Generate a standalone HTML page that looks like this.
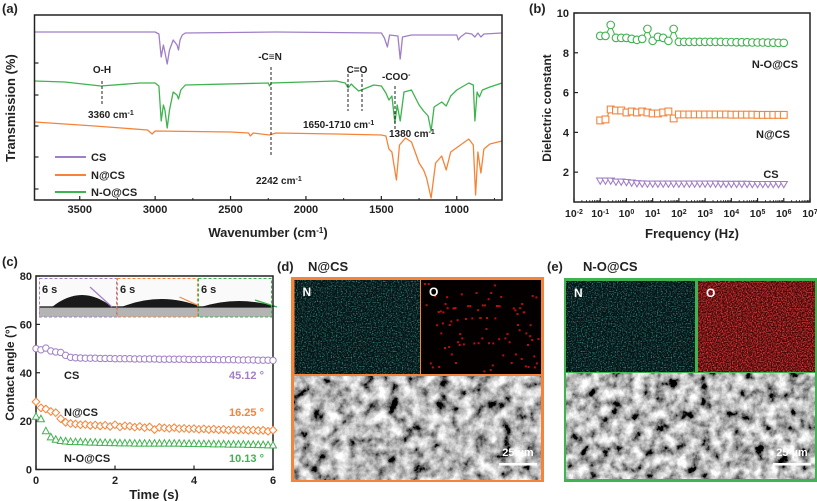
<!DOCTYPE html>
<html><head><meta charset="utf-8"><style>
html,body{margin:0;padding:0;background:#fff;}
svg{display:block;font-family:"Liberation Sans",Arial,sans-serif;font-weight:bold;}
</style></head><body>
<svg id="fig" width="817" height="501" viewBox="0 0 817 501" xmlns="http://www.w3.org/2000/svg">
<defs>
<filter id="semTex" x="0" y="0" width="100%" height="100%"><feTurbulence type="fractalNoise" baseFrequency="0.08" numOctaves="4" seed="4"/><feColorMatrix type="matrix" values="2.0 0 0 0 -0.52  2.0 0 0 0 -0.52  2.0 0 0 0 -0.52  0 0 0 0 1"/></filter>
<filter id="semTex2" x="0" y="0" width="100%" height="100%"><feTurbulence type="fractalNoise" baseFrequency="0.09" numOctaves="4" seed="9"/><feColorMatrix type="matrix" values="2.0 0 0 0 -0.52  2.0 0 0 0 -0.52  2.0 0 0 0 -0.52  0 0 0 0 1"/></filter>
<filter id="cyanTex" x="0" y="0" width="100%" height="100%"><feTurbulence type="fractalNoise" baseFrequency="0.8" numOctaves="1" seed="2"/><feColorMatrix type="matrix" values="0 0 0 0 0.08  0 0 0 0 0.45  0 0 0 0 0.45  0 0 0 2.4 -1.15"/></filter>
<filter id="redTex" x="0" y="0" width="100%" height="100%"><feTurbulence type="fractalNoise" baseFrequency="0.8" numOctaves="1" seed="5"/><feColorMatrix type="matrix" values="0 0 0 0 0.8  0 0 0 0 0.05  0 0 0 0 0.05  0 0 0 2.6 -0.95"/></filter>
</defs>
<g id="pa"></g>
<g id="pb"></g>
<g id="pc"></g>
<g id="pd"></g>
<g id="pe"></g>
</svg>
<script>
// ---------- Panel (a) data: [wavenumber, relative transmission] ----------
const ftirCS = [[3800,168],[3000,168],[2975,166],[2960,143],[2945,155],[2935,148],[2920,136],[2905,150],[2880,160],[2855,155],[2845,150],[2835,160],[2820,165],[2800,167],[2200,168],[1500,167],[1480,162],[1460,153],[1445,165],[1390,164],[1375,141],[1360,163],[1300,165],[1000,165],[990,160],[975,163],[940,167],[900,166],[880,163],[860,167],[840,163],[820,166],[700,167]];
const ftirNO = [[3800,119],[3600,118],[3360,114],[3100,117],[3000,117],[2975,114],[2960,79],[2945,95],[2935,90],[2920,72],[2905,90],[2880,108],[2855,105],[2845,101],[2830,110],[2800,115],[2250,117],[2242,114],[2230,117],[1800,119],[1740,117],[1720,112],[1700,116],[1680,113],[1650,109],[1600,112],[1550,115],[1500,114],[1470,107],[1450,100],[1430,104],[1410,77],[1395,95],[1375,79],[1350,108],[1300,110],[1250,95],[1220,89],[1190,84],[1170,69],[1150,93],[1100,98],[1070,94],[1040,104],[1000,110],[920,117],[890,115],[880,79],[865,108],[850,103],[830,110],[780,113],[700,117]];
const ftirN = [[3800,78],[3400,74],[3050,70],[3020,66],[3000,69],[2500,68],[2380,67],[2370,64],[2350,67],[2242,65],[2200,67],[1800,66],[1500,65],[1470,64],[1450,51],[1430,48],[1400,20],[1380,55],[1340,62],[1300,58],[1250,37],[1220,30],[1200,22],[1170,2],[1140,37],[1100,44],[1070,30],[1040,48],[920,61],[890,55],[875,5],[860,48],[840,27],[820,51],[780,56],[700,59]];
const aTicks = [3500,3000,2500,2000,1500,1000];

// ---------- Panel (b) data ----------
const freqExp = [-1,-0.8,-0.6,-0.4,-0.2,0,0.2,0.4,0.6,0.8,1,1.2,1.4,1.6,1.8,2,2.2,2.4,2.6,2.8,3,3.2,3.4,3.6,3.8,4,4.2,4.4,4.6,4.8,5,5.2,5.4,5.6,5.8,6];
const dielNO = [8.85,8.85,9.4,8.75,8.75,8.75,8.7,8.65,8.7,9.2,8.6,8.8,8.75,8.6,9.2,8.55,8.55,8.55,8.55,8.55,8.55,8.55,8.55,8.55,8.54,8.54,8.53,8.53,8.53,8.52,8.52,8.52,8.51,8.51,8.5,8.5];
const dielN = [4.6,4.65,5.15,5.1,5.1,5.0,5.05,5.0,5.05,5.0,4.95,4.95,5.0,5.05,4.7,4.9,4.9,4.9,4.9,4.9,4.9,4.9,4.9,4.9,4.9,4.89,4.89,4.89,4.89,4.89,4.88,4.88,4.88,4.88,4.88,4.88];
const dielCS = [1.55,1.55,1.55,1.5,1.5,1.48,1.45,1.42,1.41,1.4,1.4,1.4,1.4,1.4,1.4,1.4,1.4,1.4,1.4,1.4,1.4,1.4,1.4,1.39,1.39,1.39,1.39,1.39,1.39,1.38,1.38,1.38,1.38,1.38,1.38,1.38];
const bYTicks = [2,4,6,8,10];
const bXTicksExp = [-2,-1,0,1,2,3,4,5,6,7];

// ---------- Panel (c) data ----------
const times = [0,0.125,0.25,0.375,0.5,0.625,0.75,0.875,1,1.125,1.25,1.375,1.5,1.625,1.75,1.875,2,2.125,2.25,2.375,2.5,2.625,2.75,2.875,3,3.125,3.25,3.375,3.5,3.625,3.75,3.875,4,4.125,4.25,4.375,4.5,4.625,4.75,4.875,5,5.125,5.25,5.375,5.5,5.625,5.75,5.875,6];
const caCS = [50,49.5,50.2,49,48.6,48.4,47.2,46.4,46.2,46.1,46,46,46,45.9,45.9,45.9,45.8,45.8,45.8,45.8,45.7,45.7,45.7,45.7,45.7,45.6,45.6,45.6,45.6,45.6,45.6,45.5,45.5,45.5,45.5,45.5,45.5,45.4,45.4,45.4,45.4,45.3,45.3,45.3,45.3,45.2,45.2,45.2,45.1];
const caN = [28,25.5,25,24,23.5,21,19.5,19,18.8,18.5,18.6,18.2,18.4,18,18.3,17.8,18.5,17.6,18.1,17.9,17.5,17.8,17.3,17.6,16.5,17.4,17.2,17,17.3,16.9,17,16.8,16.9,16.6,16.8,16.5,16.7,16.4,16.6,16.3,16.5,16.3,16.4,16.2,16.3,16.1,16.2,15.8,16.25];
const caNO = [22,21,16,13.5,12.5,12,11.8,11.6,11.5,11.5,11.4,11.3,11.3,11.2,11.2,11.1,11.1,11,11,11,10.9,10.9,10.9,10.9,10.9,10.9,10.9,10.9,10.9,10.9,10.8,10.8,10.8,10.7,10.7,10.7,10.6,10.6,10.6,10.5,10.5,10.5,10.5,10.4,10.4,10.3,10.3,10.2,10.13];
const cYTicks = [0,20,40,60,80];
const cXTicks = [0,2,4,6];

const NS = "http://www.w3.org/2000/svg";
const PUR = "#a07fc6", ORA = "#f5843a", GRN = "#3fb34f";
function mk(parent, tag, attrs, text){
  const e = document.createElementNS(NS, tag);
  for (const k in attrs) e.setAttribute(k, attrs[k]);
  if (text !== undefined) e.textContent = text;
  parent.appendChild(e);
  return e;
}
function txt(parent, x, y, s, size, anchor, fill, name){
  const t = mk(parent, 'text', {x:x, y:y, 'font-size':size, 'text-anchor':anchor||'start', fill:fill||'#222'}, s);
  
  
  return t;
}

// ===== Panel A =====
const pa = document.getElementById('pa');
const aL=34.5, aR=502, aT=15, aB=200;
const xA = w => aL + (3800 - w) / 3100 * (aR - aL);
const yA = v => aB - v;
txt(pa, 2, 13, '(a)', 13, 'start', '#222', 'panel-a-label');
function specLine(data, color, name){
  const p = mk(pa, 'polyline', {points: data.map(d => xA(d[0]).toFixed(1)+','+yA(d[1]).toFixed(1)).join(' '), fill:'none', stroke:color, 'stroke-width':1.3, 'stroke-linejoin':'round'});
  
  
}
specLine(ftirCS, PUR, 'cs-spectrum');
specLine(ftirNO, GRN, 'n-o-cs-spectrum');
specLine(ftirN, ORA, 'n-cs-spectrum');
const fa = mk(pa, 'rect', {x:aL, y:aT, width:aR-aL, height:aB-aT, fill:'none', stroke:'#222', 'stroke-width':1.5});


aTicks.forEach(w => {
  mk(pa, 'line', {x1:xA(w), x2:xA(w), y1:aB, y2:aB-4, stroke:'#222', 'stroke-width':1.2});
  mk(pa, 'line', {x1:xA(w-250), x2:xA(w-250), y1:aB, y2:aB-2, stroke:'#222', 'stroke-width':1});
  txt(pa, xA(w), 213, String(w), 11, 'middle', '#222', 'x-tick-label-a');
});
[63,95,126,157,189].forEach(y => mk(pa, 'line', {x1:aL, x2:aL+4, y1:y, y2:y, stroke:'#222', 'stroke-width':1.2}));
const axa = txt(pa, 268, 237, 'Wavenumber (cm', 13, 'middle', '#222', 'x-axis-title-a');
axa.innerHTML = 'Wavenumber (cm<tspan baseline-shift="super" font-size="8">-1</tspan>)';
const aya = txt(pa, 0, 0, 'Transmission (%)', 13, 'middle', '#222', 'y-axis-title-a');
aya.setAttribute('transform', 'translate(15,108) rotate(-90)');
function dash(x, y1, y2){ mk(pa, 'line', {x1:x, x2:x, y1:y1, y2:y2, stroke:'#222', 'stroke-width':1, 'stroke-dasharray':'3,2'}); }
dash(102, 81, 106); dash(271, 67, 157); dash(348, 74, 111); dash(362, 74, 111); dash(395, 86, 130);
txt(pa, 102, 73, 'O-H', 10, 'middle', '#222', 'oh-annotation');
const an1 = txt(pa, 88, 118, '', 10, 'start', '#222', 'oh-wavenumber');
an1.innerHTML = '3360 cm<tspan baseline-shift="super" font-size="7">-1</tspan>';
txt(pa, 270, 60, '-C≡N', 10, 'middle', '#222', 'cn-annotation');
const an2 = txt(pa, 256, 184, '', 10, 'start', '#222', 'cn-wavenumber');
an2.innerHTML = '2242 cm<tspan baseline-shift="super" font-size="7">-1</tspan>';
txt(pa, 357, 73, 'C=O', 10, 'middle', '#222', 'co-annotation');
const an3 = txt(pa, 303, 128, '', 10, 'start', '#222', 'co-wavenumber');
an3.innerHTML = '1650-1710 cm<tspan baseline-shift="super" font-size="7">-1</tspan>';
const an4 = txt(pa, 382, 80, '', 10, 'start', '#222', 'coo-annotation');
an4.innerHTML = '-COO<tspan baseline-shift="super" font-size="7">-</tspan>';
const an5 = txt(pa, 389, 137, '', 10, 'start', '#222', 'coo-wavenumber');
an5.innerHTML = '1380 cm<tspan baseline-shift="super" font-size="7">-1</tspan>';
[[PUR,'CS',157],[ORA,'N@CS',175],[GRN,'N-O@CS',192]].forEach(l => {
  const g = mk(pa, 'g', {});
  
  
  mk(g, 'line', {x1:55, x2:86, y1:l[2], y2:l[2], stroke:l[0], 'stroke-width':2});
  txt(g, 91, l[2]+4, l[1], 11, 'start', '#222', 'legend-label');
});

// ===== Panel B =====
const pb = document.getElementById('pb');
const bL=574, bR=810, bT=13, bB=202;
const xB = e => bL + (e + 2) / 9 * (bR - bL);
const yB = v => bB - (v - 0.5) / 9.5 * (bB - bT);
txt(pb, 529, 13, '(b)', 13, 'start', '#222', 'panel-b-label');
const fb = mk(pb, 'rect', {x:bL, y:bT, width:bR-bL, height:bB-bT, fill:'none', stroke:'#222', 'stroke-width':1.5});


bYTicks.forEach(v => {
  mk(pb, 'line', {x1:bL, x2:bL+4, y1:yB(v), y2:yB(v), stroke:'#222', 'stroke-width':1.2});
  txt(pb, bL-5, yB(v)+4, String(v), 11, 'end', '#222', 'y-tick-label-b');
});
bXTicksExp.forEach(e => {
  mk(pb, 'line', {x1:xB(e), x2:xB(e), y1:bB, y2:bB-4, stroke:'#222', 'stroke-width':1.2});
  for (let k = 2; k < 10 && e < 7; k++) { const xm = xB(e + Math.log10(k)); mk(pb, 'line', {x1:xm, x2:xm, y1:bB, y2:bB-2, stroke:'#222', 'stroke-width':0.8}); }
  const t = txt(pb, xB(e), 217, '', 10.5, 'middle', '#222', 'x-tick-label-b');
  t.innerHTML = '10<tspan baseline-shift="super" font-size="7">' + (e < 0 ? '-' + (-e) : e) + '</tspan>';
});
txt(pb, 692, 238, 'Frequency (Hz)', 13, 'middle', '#222', 'x-axis-title-b');
const ayb = txt(pb, 0, 0, 'Dielectric constant', 12, 'middle', '#222', 'y-axis-title-b');
ayb.setAttribute('transform', 'translate(551,108) rotate(-90)');
function lineThrough(parent, xs, ys, color){ mk(parent, 'polyline', {points: xs.map((x,i)=>x.toFixed(1)+','+ys[i].toFixed(1)).join(' '), fill:'none', stroke:color, 'stroke-width':1}); }
lineThrough(pb, freqExp.map(xB), dielNO.map(yB), GRN);
lineThrough(pb, freqExp.map(xB), dielN.map(yB), ORA);
freqExp.forEach((e, i) => {
  const c = mk(pb, 'circle', {cx:xB(e), cy:yB(dielNO[i]), r:3.8, fill:'#fff', stroke:GRN, 'stroke-width':1.1});
  
  
  const s = mk(pb, 'rect', {x:xB(e)-3.4, y:yB(dielN[i])-3.4, width:6.8, height:6.8, fill:'#fff', stroke:ORA, 'stroke-width':1.1});
  
  
  const x = xB(e), y = yB(dielCS[i]);
  const tr = mk(pb, 'polygon', {points:`${x-3.6},${y-3} ${x+3.6},${y-3} ${x},${y+3.2}`, fill:'#fff', stroke:PUR, 'stroke-width':1.1});
  
  
});
txt(pb, 775, 68, 'N-O@CS', 11, 'middle', '#222', 'n-o-cs-series-label');
txt(pb, 773, 138, 'N@CS', 11, 'middle', '#222', 'n-cs-series-label');
txt(pb, 771, 178, 'CS', 11, 'middle', '#222', 'cs-series-label');

// ===== Panel C =====
const pc = document.getElementById('pc');
const cL=36, cR=273, cT=276, cB=469.5;
const xC = t => cL + t / 6 * (cR - cL);
const yC = v => cB - v / 80 * (cB - cT);
txt(pc, 2, 266, '(c)', 13, 'start', '#222', 'panel-c-label');
const inset = mk(pc, 'g', {});


[[39,117,PUR,30,12],[117,198,ORA,40,8],[198,272,GRN,38,6]].forEach((p, i) => {
  mk(inset, 'rect', {x:p[0], y:278, width:p[1]-p[0], height:39, fill:'#fafafa'});
  mk(inset, 'rect', {x:p[0], y:307, width:p[1]-p[0], height:10, fill:'#b4b4b4'});
  mk(inset, 'line', {x1:p[0], x2:p[1], y1:307, y2:307, stroke:'#333', 'stroke-width':1.5});
  const cx = (p[0]+p[1])/2 + 4;
  mk(inset, 'path', {d:`M${cx-p[3]},307 Q${cx},${307-p[4]*2} ${cx+p[3]},307 Z`, fill:'#1a1a1a'});
  mk(inset, 'line', {x1:cx+p[3], x2:cx+p[3]-22, y1:307, y2:307-(i===0?20:i===1?10:7), stroke:p[2], 'stroke-width':1.2});
  mk(inset, 'rect', {x:p[0]+0.5, y:278.5, width:p[1]-p[0]-1, height:38.5, fill:'none', stroke:p[2], 'stroke-width':1, 'stroke-dasharray':'3,2'});
  txt(inset, p[0]+3, 293, '6 s', 11, 'start', '#222', 'time-label-6s');
});
const fc = mk(pc, 'rect', {x:cL, y:cT, width:cR-cL, height:cB-cT, fill:'none', stroke:'#222', 'stroke-width':1.5});


cYTicks.forEach(v => {
  mk(pc, 'line', {x1:cL, x2:cL+4, y1:yC(v), y2:yC(v), stroke:'#222', 'stroke-width':1.2});
  txt(pc, cL-4, yC(v)+4, String(v), 11, 'end', '#222', 'y-tick-label-c');
});
cXTicks.forEach(t => {
  mk(pc, 'line', {x1:xC(t), x2:xC(t), y1:cB, y2:cB-4, stroke:'#222', 'stroke-width':1.2});
  txt(pc, xC(t), 484, String(t), 11, 'middle', '#222', 'x-tick-label-c');
});
txt(pc, 154, 499, 'Time (s)', 13, 'middle', '#222', 'x-axis-title-c');
const ayc = txt(pc, 0, 0, 'Contact angle (°)', 12, 'middle', '#222', 'y-axis-title-c');
ayc.setAttribute('transform', 'translate(14,373) rotate(-90)');
times.forEach((t, i) => {
  const x = xC(t);
  let y = yC(caNO[i]);
  const a = mk(pc, 'polygon', {points:`${x-3.5},${y+3} ${x+3.5},${y+3} ${x},${y-3.5}`, fill:'#fff', stroke:GRN, 'stroke-width':1});
  
  
  y = yC(caN[i]);
  const d = mk(pc, 'polygon', {points:`${x},${y-3.8} ${x+3.8},${y} ${x},${y+3.8} ${x-3.8},${y}`, fill:'#fff', stroke:ORA, 'stroke-width':1});
  
  
  y = yC(caCS[i]);
  const c = mk(pc, 'circle', {cx:x, cy:y, r:3.2, fill:'#fff', stroke:PUR, 'stroke-width':1});
  
  
});
txt(pc, 64, 379, 'CS', 11, 'start', '#222', 'cs-series-label');
txt(pc, 264, 379, '45.12 °', 11, 'end', PUR, 'cs-final-angle');
txt(pc, 64, 416, 'N@CS', 11, 'start', '#222', 'n-cs-series-label');
txt(pc, 264, 416, '16.25 °', 11, 'end', ORA, 'n-cs-final-angle');
txt(pc, 64, 462, 'N-O@CS', 11, 'start', '#222', 'n-o-cs-series-label');
txt(pc, 264, 462, '10.13 °', 11, 'end', GRN, 'n-o-cs-final-angle');

// ===== Panels D, E =====
function edsPanel(gid, label, lx, title, tx, box, color, nMap, oMap, sem, semF, sparseO){
  const g = document.getElementById(gid);
  txt(g, lx, 271, label, 13, 'start', '#222', gid + '-label');
  txt(g, tx, 271, title, 13, 'start', '#222', gid + '-title');
  mk(g, 'rect', {x:box[0], y:box[1], width:box[2]-box[0], height:box[3]-box[1], fill:color});
  const nm = mk(g, 'g', {});
  
  
  mk(nm, 'rect', {x:nMap[0], y:nMap[1], width:nMap[2], height:nMap[3], fill:'#041414'});
  mk(nm, 'rect', {x:nMap[0], y:nMap[1], width:nMap[2], height:nMap[3], filter:'url(#cyanTex)'});
  txt(nm, nMap[0]+8, nMap[1]+16, 'N', 12, 'start', '#fff', 'n-map-label');
  const om = mk(g, 'g', {});
  
  
  mk(om, 'rect', {x:oMap[0], y:oMap[1], width:oMap[2], height:oMap[3], fill: sparseO ? '#050000' : '#3a0303'});
  if (sparseO) {
    for (let i = 0; i < 90; i++) {
      const px = oMap[0] + 3 + ((i * 37.3) % (oMap[2]-6)), py = oMap[1] + 3 + ((i * 53.7 + i*i*0.7) % (oMap[3]-6));
      mk(om, 'rect', {x:px, y:py, width:2, height:2, fill:'#b81010'});
    }
  } else {
    mk(om, 'rect', {x:oMap[0], y:oMap[1], width:oMap[2], height:oMap[3], filter:'url(#redTex)'});
  }
  txt(om, oMap[0]+8, oMap[1]+16, 'O', 12, 'start', '#fff', 'o-map-label');
  const sm = mk(g, 'g', {});
  
  
  mk(sm, 'rect', {x:sem[0], y:sem[1], width:sem[2], height:sem[3], fill:'#888'});
  mk(sm, 'rect', {x:sem[0], y:sem[1], width:sem[2], height:sem[3], filter:semF});
  const bx = sem[0] + sem[2] - 42;
  mk(sm, 'rect', {x:bx, y:463, width:38, height:2.5, fill:'#fff'});
  txt(sm, bx+19, 456, '25 µm', 11, 'middle', '#fff', 'scale-bar-label');
}
edsPanel('pd', '(d)', 277, 'N@CS', 308, [291,277,544,482], ORA, [294.5,280,125.5,94], [421,280,120,94], [294,376,247,104], 'url(#semTex)', true);
edsPanel('pe', '(e)', 547, 'N-O@CS', 583, [564,278,817,482], GRN, [566,281,129,91], [698,281,117,91], [566,373,249,106], 'url(#semTex2)', false);
</script>
</body></html>
